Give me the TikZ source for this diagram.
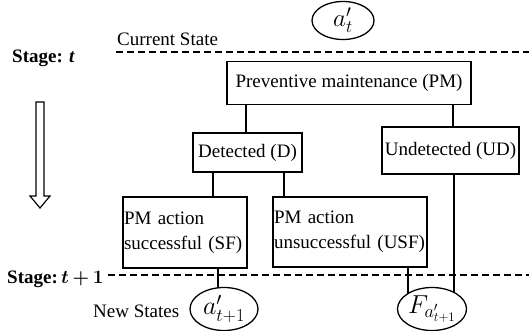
\documentclass[tikz,border=0pt]{standalone}
\usepackage{fix-cm}
\usepackage{fontspec}
\setmainfont{Liberation Serif}
\usetikzlibrary{shapes.geometric,backgrounds}
\begin{document}
\begin{tikzpicture}[x=1pt,y=-1pt,
  every node/.style={font=\fontsize{19}{25}\selectfont, inner sep=0pt},
  box/.style={draw, line width=1.3pt, rectangle},
  ell/.style={draw, line width=1.3pt, ellipse, fill=white, font=\fontsize{26}{30}\selectfont},
  conn/.style={line width=1.2pt},
  dashline/.style={line width=1.3pt, dash pattern=on 7pt off 4pt},
  lbl/.style={anchor=base west}]
\useasboundingbox (0,0) rectangle (529,331);
% boxes
\node[box, minimum width=244pt, minimum height=43pt] (PM) at (349,83) {Preventive maintenance (PM)};
\node[box, minimum width=109pt, minimum height=39pt] (D) at (247.5,152.5) {Detected (D)};
\node[box, minimum width=137pt, minimum height=47pt] (UD) at (450.5,150.5) {Undetected (UD)};
\node[box, minimum width=124pt, minimum height=71pt, text width=122pt, inner xsep=1pt, align=left] (SF) at (185,232.5) {PM action\\successful (SF)};
\node[box, minimum width=154pt, minimum height=70pt, text width=152pt, inner xsep=1pt, align=left] (USF) at (350,232) {PM action\\unsuccessful (USF)};
% ellipses
\node[ell, minimum width=62pt, minimum height=38pt, font=\fontsize{25}{28}\selectfont] (A0) at (343,20.5) {$a'_t$};
\node[ell, minimum width=68pt, minimum height=43pt] (A1) at (224,309) {$a'_{t+1}$};
\node[ell, minimum width=69pt, minimum height=43pt] (F) at (432,309) {$F_{a'_{t+1}}$};
% labels
\node[lbl] (cs) at (117,46) {Current State};
\node[lbl] (st) at (12,63) {\textbf{Stage: \textit{t}}};
\node[lbl] (st1) at (7,283) {\textbf{Stage:\,}{\boldmath$t\mskip3mu{+}\mskip3mu1$}};
\node[lbl] (ns) at (93,317) {New States};
% x positions of connectors
\coordinate (x1) at (246,0);
\coordinate (x2) at (453,0);
\coordinate (x3) at (213,0);
\coordinate (x4) at (284,0);
\coordinate (x5) at (218,0);
\coordinate (x6) at (408,0);
\coordinate (x7) at (454,0);
% dashed lines
\coordinate (d1s) at (116,52);
\coordinate (d1e) at (529,52);
\coordinate (d2s) at (108,275);
\coordinate (d2e) at (529,275);
\begin{pgfonlayer}{background}
\fill[white] (0,0) rectangle (529,331);
\draw[dashline] (d1s) -- (d1e);
\draw[dashline] (d2s) -- (d2e);
\draw[conn] (PM.south -| x1) -- (D.north -| x1);
\draw[conn] (PM.south -| x2) -- (UD.north -| x2);
\draw[conn] (D.south -| x3) -- (SF.north -| x3);
\draw[conn] (D.south -| x4) -- (USF.north -| x4);
\draw[conn] (SF.south -| x5) -- (A1.center -| x5);
\draw[conn] (USF.south -| x6) -- (F.center -| x6);
\draw[conn] (UD.south -| x7) -- (F.center -| x7);
\end{pgfonlayer}
% hollow arrow
\draw[line width=1.2pt, line join=miter] (36,102) -- (44,102) -- (44,196) -- (50,196) -- (40,208) -- (30,196) -- (36,196) -- cycle;
\end{tikzpicture}
\end{document}
